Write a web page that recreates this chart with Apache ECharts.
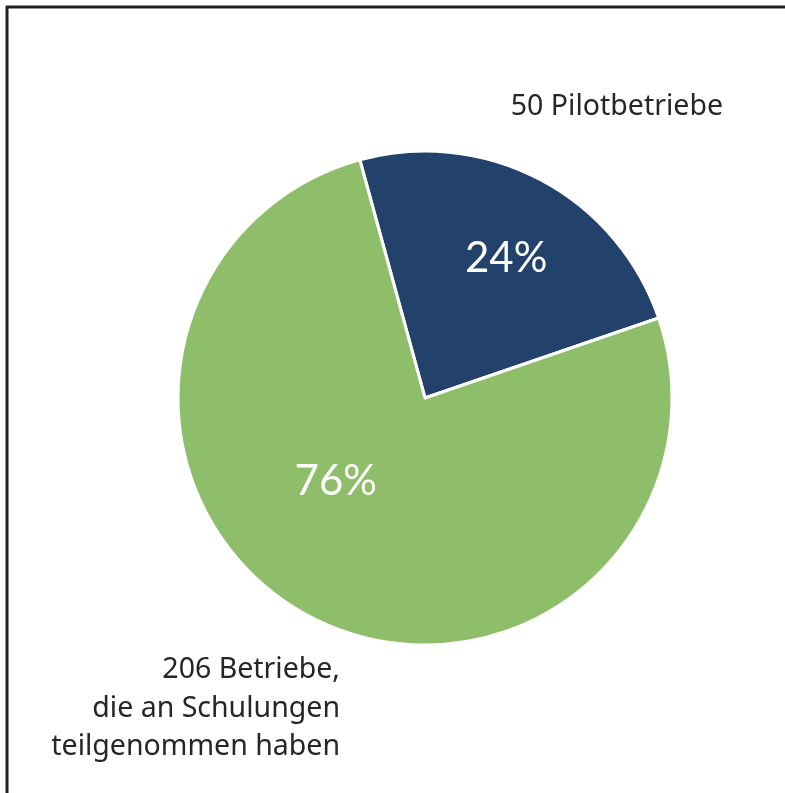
<!DOCTYPE html>
<html>
<head>
<meta charset="utf-8">
<script src="https://cdn.jsdelivr.net/npm/echarts@6/dist/echarts.min.js"></script>
<style>
  html, body { margin: 0; padding: 0; background: #fff; }
  #pie-chart { width: 785px; height: 793px; }
</style>
</head>
<body>
<div id="pie-chart"></div>
<script>
// Anteile (Prozent) und Beschriftungen
const categories = ['50 Pilotbetriebe', '206 Betriebe,\ndie an Schulungen\nteilgenommen haben']
const shares = [24, 76]
const pctLabels = ['24%', '76%']
const colors = ['#23426b', '#8fbe6a']

const chart = echarts.init(document.getElementById('pie-chart'))
chart.setOption({
  animation: false,
  textStyle: { fontFamily: 'Lato' },
  graphic: [
    // Rahmen oben und links
    { type: 'line', shape: { x1: 6, y1: 7, x2: 785, y2: 7 }, style: { stroke: '#222', lineWidth: 3 } },
    { type: 'line', shape: { x1: 7, y1: 6, x2: 7, y2: 793 }, style: { stroke: '#222', lineWidth: 3 } },
    {
      type: 'text', right: 62, top: 92,
      style: { text: categories[0], fontSize: 28.5, fontFamily: 'Noto Sans', fill: '#262626', textAlign: 'right' }
    },
    {
      type: 'text', right: 445, top: 651,
      style: { text: categories[1], fontSize: 28.5, lineHeight: 38.5, fontFamily: 'Noto Sans', fill: '#262626', align: 'right', textAlign: 'right' }
    }
  ],
  series: [
    {
      type: 'pie',
      center: [425, 398],
      radius: [0, 247],
      startAngle: 105.3,
      clockwise: true,
      silent: true,
      itemStyle: { borderColor: '#fff', borderWidth: 3 },
      label: {
        show: true,
        position: 'inside',
        color: '#fff',
        fontSize: 42,
        fontFamily: 'Lato',
        formatter: p => pctLabels[p.dataIndex]
      },
      labelLine: { show: false },
      data: [
        { value: shares[0], name: categories[0], itemStyle: { color: colors[0] }, label: { offset: [22, -28] } },
        { value: shares[1], name: categories[1], itemStyle: { color: colors[1] }, label: { offset: [-30, -28] } }
      ]
    }
  ]
})
</script>
</body>
</html>
